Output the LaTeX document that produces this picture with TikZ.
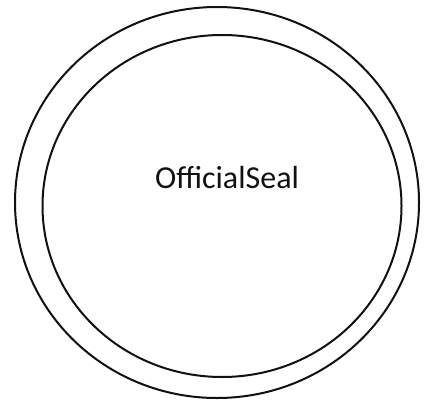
\documentclass[tikz,border=0pt]{standalone}
\usepackage{fontspec}
\setmainfont{Carlito}
\usetikzlibrary{positioning}
\definecolor{sealink}{HTML}{111111}

\begin{document}
\begin{tikzpicture}[
    x=1pt, y=-1pt,
    ring/.style={draw=sealink, line width=2pt},
    label/.style={font=\fontsize{32}{36}\selectfont, text=sealink},
]
    \useasboundingbox (0,0) rectangle (427,406);

    % Outer and inner rings
    \draw[ring] (217,202.5) ellipse [x radius=202, y radius=195.5];
    \draw[ring] (222,206) ellipse [x radius=179.5, y radius=171];

    % Title
    \node[label] (title) at (227,178) {OfficialSeal};
\end{tikzpicture}
\end{document}
